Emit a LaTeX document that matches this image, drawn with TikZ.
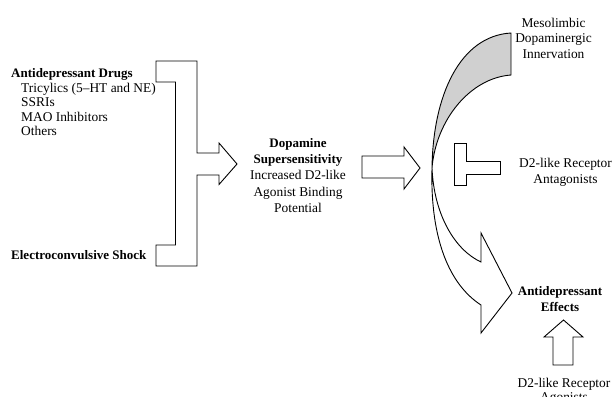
\documentclass[tikz,border=0pt]{standalone}
\usepackage{fontspec}
\setmainfont{Liberation Serif}
\begin{document}
\begin{tikzpicture}[x=1pt,y=-1pt,
  blk/.style={draw=black, line width=0.9pt, line join=miter, fill=white},
  lbl/.style={font=\fontsize{13.4}{15}\selectfont, inner sep=0pt, anchor=base},
  lbll/.style={lbl, anchor=base west},
  bft/.style={font=\fontsize{13}{15}\selectfont\bfseries}]
\useasboundingbox (0,0) rectangle (612,396);
% bracket with arrow
\draw[blk] (156,61) -- (197,61) -- (197,153) -- (219,153) -- (219,143) -- (237,164)
  -- (219,184.5) -- (219,175) -- (197,175) -- (197,266) -- (156,266) -- (156,245)
  -- (175.5,245) -- (175.5,82) -- (156,82) -- cycle;
% middle arrow
\draw[blk] (362,156) -- (404,156) -- (404,147) -- (420,168) -- (404,189) -- (404,178) -- (362,178) -- cycle;
% gray back of the twisted arrow
\draw[blk, fill={rgb,255:red,208;green,208;blue,208}] (511,33) .. controls (460,36) and (433,95) .. (432,168)
  .. controls (436,120) and (470,78) .. (511,75) -- cycle;
% curved arrow front
\draw[blk] (432,168) .. controls (430,240) and (450,285) .. (481,305) -- (481,333) -- (512,293)
  -- (481,233) -- (481,262) .. controls (455,250) and (434,215) .. (432,168) -- cycle;
% T-shaped blocker
\draw[blk] (454,143) -- (466,143) -- (466,161) -- (500,161) -- (500,174) -- (466,174) -- (466,185) -- (454,185) -- cycle;
% up arrow
\draw[blk] (553,365) -- (553,337) -- (544,337) -- (563.5,320) -- (583,337) -- (573,337) -- (573,365) -- cycle;
% left texts
\node[lbll, bft] (drugs) at (11,77.5) {Antidepressant Drugs};
\node[lbll] (tca) at (21,92) {Tricylics (5–HT and NE)};
\node[lbll] (ssri) at (21,106.5) {SSRIs};
\node[lbll] (maoi) at (21,121) {MAO Inhibitors};
\node[lbll] (oth) at (21,135.5) {Others};
\node[lbll, bft] (ecs) at (11,259) {Electroconvulsive Shock};
% middle texts
\node[lbl, bft] (ds1) at (298,147) {Dopamine};
\node[lbl, bft] (ds2) at (298,163) {Supersensitivity};
\node[lbl] (ds3) at (298,179.5) {Increased D2-like};
\node[lbl] (ds4) at (298,196) {Agonist Binding};
\node[lbl] (ds5) at (298,212.5) {Potential};
% right texts
\node[lbl] (ml1) at (553.5,27.5) {Mesolimbic};
\node[lbl] (ml2) at (553.5,43) {Dopaminergic};
\node[lbl] (ml3) at (553.5,58.5) {Innervation};
\node[lbl] (an1) at (565.5,167) {D2-like Receptor};
\node[lbl] (an2) at (565.5,183) {Antagonists};
\node[lbl, bft] (ae1) at (560,295) {Antidepressant};
\node[lbl, bft] (ae2) at (560,311.5) {Effects};
\node[lbl] (ag1) at (564,387.5) {D2-like Receptor};
\node[lbl] (ag2) at (564,401) {Agonists};
\end{tikzpicture}
\end{document}
